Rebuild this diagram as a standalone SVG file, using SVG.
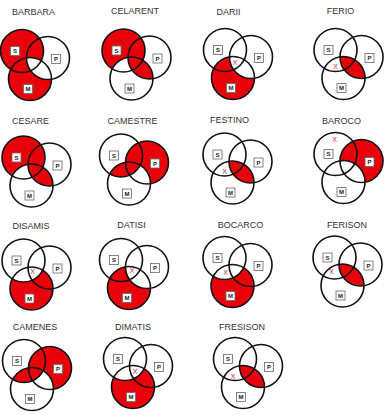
<svg xmlns="http://www.w3.org/2000/svg" width="384" height="415" viewBox="0 0 384 415">
<style>
.t{font-family:"Liberation Sans",Arial,sans-serif;font-size:9px;fill:#333;text-anchor:middle}
.c{fill:none;stroke:#111;stroke-width:1.6}
.r{fill:#e8000b}
.b{fill:#fff;stroke:#666;stroke-width:0.8}
.l{font-family:"Liberation Sans",Arial,sans-serif;font-size:6px;font-weight:bold;fill:#222;text-anchor:middle}
.x{font-family:"Liberation Sans",Arial,sans-serif;font-size:7px;fill:#d42020;text-anchor:middle}
</style>
<defs>
<circle id="S" cx="0" cy="0" r="21.5"/>
<circle id="P" cx="26" cy="7" r="21.5"/>
<circle id="M" cx="8" cy="28" r="21.5"/>
<clipPath id="inM"><circle cx="8" cy="28" r="21.5"/></clipPath>
<clipPath id="inP"><circle cx="26" cy="7" r="21.5"/></clipPath>
<mask id="noM" maskUnits="userSpaceOnUse" x="-40" y="-40" width="120" height="120"><rect x="-40" y="-40" width="120" height="120" fill="#fff"/><circle cx="8" cy="28" r="21.5" fill="#000"/></mask>
<mask id="noP" maskUnits="userSpaceOnUse" x="-40" y="-40" width="120" height="120"><rect x="-40" y="-40" width="120" height="120" fill="#fff"/><circle cx="26" cy="7" r="21.5" fill="#000"/></mask>
<mask id="noS" maskUnits="userSpaceOnUse" x="-40" y="-40" width="120" height="120"><rect x="-40" y="-40" width="120" height="120" fill="#fff"/><circle cx="0" cy="0" r="21.5" fill="#000"/></mask>
<g id="o">
<circle class="c" cx="0" cy="0" r="21.5"/>
<circle class="c" cx="26" cy="7" r="21.5"/>
<circle class="c" cx="8" cy="28" r="21.5"/>
<rect class="b" x="-11.5" y="-4.5" width="9" height="9"/>
<rect class="b" x="29.5" y="3.5" width="9" height="9"/>
<rect class="b" x="1.5" y="33.5" width="9" height="9"/>
</g>
</defs>

<g id="barbara">
<text class="t" x="33.5" y="15">BARBARA</text>
<g transform="translate(22,51)">
<use href="#S" class="r" mask="url(#noM)"/><use href="#M" class="r" mask="url(#noP)"/>
<use href="#o"/>
<text class="l" x="-7" y="2.2">S</text><text class="l" x="34" y="10.2">P</text><text class="l" x="6" y="40.2">M</text>
</g></g>

<g id="celarent">
<text class="t" x="135" y="14">CELARENT</text>
<g transform="translate(123.5,50.5)">
<use href="#S" class="r" mask="url(#noM)"/><use href="#M" class="r" clip-path="url(#inP)"/>
<use href="#o"/>
<text class="l" x="-7" y="2.2">S</text><text class="l" x="34" y="10.2">P</text><text class="l" x="6" y="40.2">M</text>
</g></g>

<g id="darii">
<text class="t" x="228.5" y="15">DARII</text>
<g transform="translate(225,50)">
<use href="#M" class="r" mask="url(#noP)"/>
<use href="#o"/>
<text class="l" x="-7" y="2.2">S</text><text class="l" x="34" y="10.2">P</text><text class="l" x="6" y="40.2">M</text>
<text class="x" x="10" y="14.5">X</text>
</g></g>

<g id="ferio">
<text class="t" x="340.5" y="14">FERIO</text>
<g transform="translate(335.5,50)">
<use href="#M" class="r" clip-path="url(#inP)"/>
<use href="#o"/>
<text class="l" x="-7" y="2.2">S</text><text class="l" x="34" y="10.2">P</text><text class="l" x="6" y="40.2">M</text>
<text class="x" x="0" y="18.5">X</text>
</g></g>

<g id="cesare">
<text class="t" x="30.5" y="124">CESARE</text>
<g transform="translate(23.5,157.5)">
<use href="#S" class="r" mask="url(#noM)"/><use href="#M" class="r" clip-path="url(#inP)"/>
<use href="#o"/>
<text class="l" x="-7" y="2.2">S</text><text class="l" x="34" y="10.2">P</text><text class="l" x="6" y="40.2">M</text>
</g></g>

<g id="camestre">
<text class="t" x="132.5" y="124">CAMESTRE</text>
<g transform="translate(121,155.5)">
<use href="#P" class="r" mask="url(#noM)"/><use href="#S" class="r" clip-path="url(#inM)"/>
<use href="#o"/>
<text class="l" x="-7" y="2.2">S</text><text class="l" x="34" y="10.2">P</text><text class="l" x="6" y="40.2">M</text>
</g></g>

<g id="festino">
<text class="t" x="229.5" y="123">FESTINO</text>
<g transform="translate(224.5,154.5)">
<use href="#M" class="r" clip-path="url(#inP)"/>
<use href="#o"/>
<text class="l" x="-7" y="2.2">S</text><text class="l" x="34" y="10.2">P</text><text class="l" x="6" y="40.2">M</text>
<text class="x" x="0" y="19.5">X</text>
</g></g>

<g id="baroco">
<text class="t" x="341.5" y="124">BAROCO</text>
<g transform="translate(335.5,154)">
<use href="#P" class="r" mask="url(#noM)"/>
<use href="#o"/>
<text class="l" x="-7" y="2.2">S</text><text class="l" x="34" y="10.2">P</text><text class="l" x="6" y="40.2">M</text>
<text class="x" x="-1" y="-12.5">X</text>
</g></g>

<g id="disamis">
<text class="t" x="31" y="229">DISAMIS</text>
<g transform="translate(23.5,260.5)">
<use href="#M" class="r" mask="url(#noS)"/>
<use href="#o"/>
<text class="l" x="-7" y="2.2">S</text><text class="l" x="34" y="10.2">P</text><text class="l" x="6" y="40.2">M</text>
<text class="x" x="9" y="13.5">X</text>
</g></g>

<g id="datisi">
<text class="t" x="131.5" y="228">DATISI</text>
<g transform="translate(121,260)">
<use href="#M" class="r" mask="url(#noP)"/>
<use href="#o"/>
<text class="l" x="-7" y="2.2">S</text><text class="l" x="34" y="10.2">P</text><text class="l" x="6" y="40.2">M</text>
<text class="x" x="11" y="12.5">X</text>
</g></g>

<g id="bocarco">
<text class="t" x="240.5" y="228">BOCARCO</text>
<g transform="translate(224.5,258)">
<use href="#M" class="r" mask="url(#noS)"/>
<use href="#o"/>
<text class="l" x="-7" y="2.2">S</text><text class="l" x="34" y="10.2">P</text><text class="l" x="6" y="40.2">M</text>
<text class="x" x="1" y="16.5">X</text>
</g></g>

<g id="ferison">
<text class="t" x="347" y="228">FERISON</text>
<g transform="translate(334.5,257.5)">
<use href="#M" class="r" clip-path="url(#inP)"/>
<use href="#o"/>
<text class="l" x="-7" y="2.2">S</text><text class="l" x="34" y="10.2">P</text><text class="l" x="6" y="40.2">M</text>
<text class="x" x="-3" y="16.5">X</text>
</g></g>

<g id="camenes">
<text class="t" x="35" y="330">CAMENES</text>
<g transform="translate(24,361)">
<use href="#P" class="r" mask="url(#noM)"/><use href="#S" class="r" clip-path="url(#inM)"/>
<use href="#o"/>
<text class="l" x="-7" y="2.2">S</text><text class="l" x="34" y="10.2">P</text><text class="l" x="6" y="40.2">M</text>
</g></g>

<g id="dimatis">
<text class="t" x="133" y="330">DIMATIS</text>
<g transform="translate(125,359)">
<use href="#M" class="r" mask="url(#noS)"/>
<use href="#o"/>
<text class="l" x="-7" y="2.2">S</text><text class="l" x="34" y="10.2">P</text><text class="l" x="6" y="40.2">M</text>
<text class="x" x="10" y="14.5">X</text>
</g></g>

<g id="fresison">
<text class="t" x="242" y="330">FRESISON</text>
<g transform="translate(235,359)">
<use href="#M" class="r" clip-path="url(#inP)"/>
<use href="#o"/>
<text class="l" x="-7" y="2.2">S</text><text class="l" x="34" y="10.2">P</text><text class="l" x="6" y="40.2">M</text>
<text class="x" x="-2" y="19.5">X</text>
</g></g>
</svg>
